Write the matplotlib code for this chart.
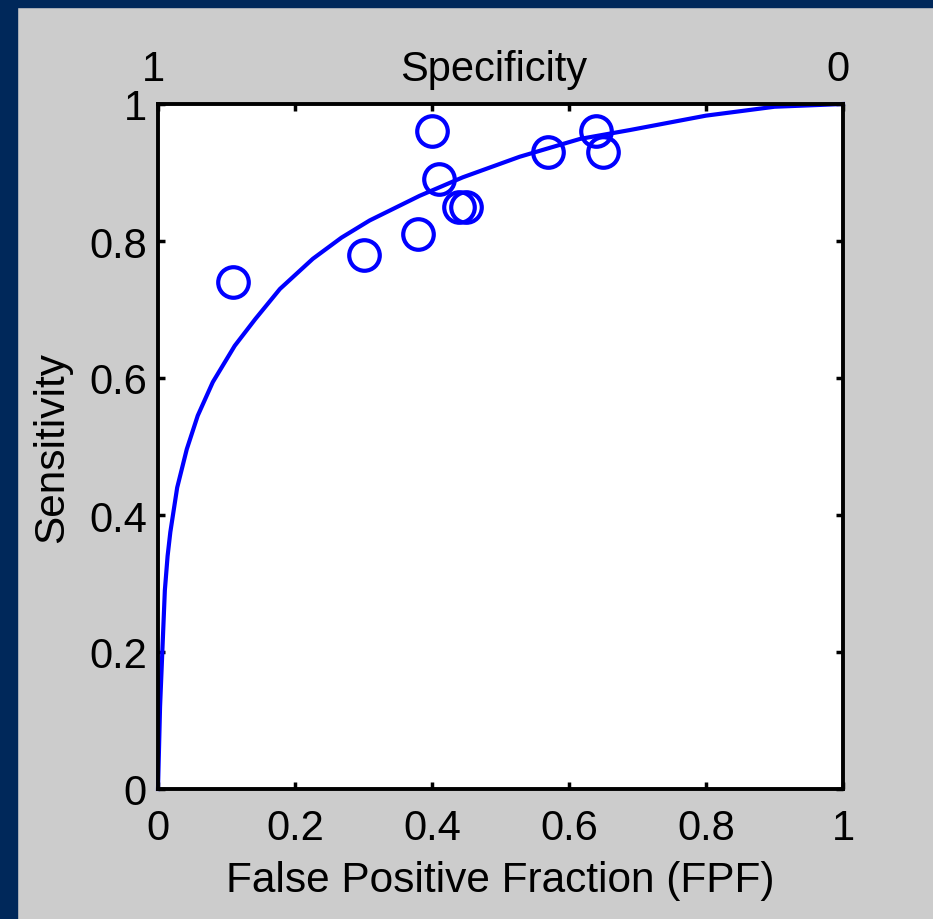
import matplotlib
matplotlib.use("Agg")
import matplotlib.pyplot as plt
from matplotlib.patches import Rectangle

plt.rcParams['font.family'] = ['Liberation Sans', 'DejaVu Sans']

# fitted ROC curve
fpf_curve = [0, 0.003, 0.010, 0.014, 0.018, 0.028, 0.042, 0.058, 0.080, 0.112, 0.142,
             0.178, 0.226, 0.268, 0.309, 0.382, 0.445, 0.528, 0.616, 0.689, 0.80, 0.90, 1.0]
tpf_curve = [0, 0.12, 0.29, 0.34, 0.375, 0.440, 0.496, 0.545, 0.594, 0.647, 0.686,
             0.730, 0.774, 0.805, 0.830, 0.866, 0.893, 0.923, 0.949, 0.962, 0.983, 0.996, 1.0]

# observed operating points (studies)
fpf_pts = [0.11, 0.30, 0.38, 0.40, 0.41, 0.44, 0.45, 0.57, 0.64, 0.65]
tpf_pts = [0.74, 0.78, 0.81, 0.96, 0.89, 0.85, 0.85, 0.93, 0.96, 0.93]

ticks = [0, 0.2, 0.4, 0.6, 0.8, 1]
tick_labels = ['0', '0.2', '0.4', '0.6', '0.8', '1']

fig = plt.figure(figsize=(9.33, 9.20), dpi=100, facecolor='#cccccc')
# dark frame strips on left and top
fig.patches.append(Rectangle((0, 0), 17 / 933, 1, transform=fig.transFigure,
                             color='#00285a', zorder=0))
fig.patches.append(Rectangle((0, 1 - 8 / 920), 1, 8 / 920, transform=fig.transFigure,
                             color='#00285a', zorder=0))

ax = fig.add_axes([158 / 933, 130 / 920, 685 / 933, 685 / 920])
ax.plot(fpf_curve, tpf_curve, color='#0000ff', lw=3, clip_on=False)
ax.plot(fpf_pts, tpf_pts, 'o', ms=22, mfc='none', mec='#0000ff', mew=3)

ax.set_xlim(0, 1)
ax.set_ylim(0, 1)
ax.set_xticks(ticks)
ax.set_xticklabels(tick_labels)
ax.set_yticks(ticks)
ax.set_yticklabels(tick_labels)
ax.tick_params(direction='in', length=5, width=2.5, labelsize=30,
               top=True, right=True)
ax.tick_params(axis='x', pad=14)
ax.tick_params(axis='y', pad=8)
for s in ax.spines.values():
    s.set_linewidth(2.8)

ax.set_xlabel('False Positive Fraction (FPF)', fontsize=30.5, labelpad=8)
ax.set_ylabel('Sensitivity', fontsize=30.5, labelpad=12)

ytop = 1 + 35 / 685
ax.text(-0.007, ytop, '1', transform=ax.transAxes, ha='center', va='center', fontsize=30)
ax.text(0.49, ytop, 'Specificity', transform=ax.transAxes, ha='center', va='center', fontsize=30)
ax.text(0.993, ytop, '0', transform=ax.transAxes, ha='center', va='center', fontsize=30)

fig.savefig('out.png', dpi=100, facecolor=fig.get_facecolor())
